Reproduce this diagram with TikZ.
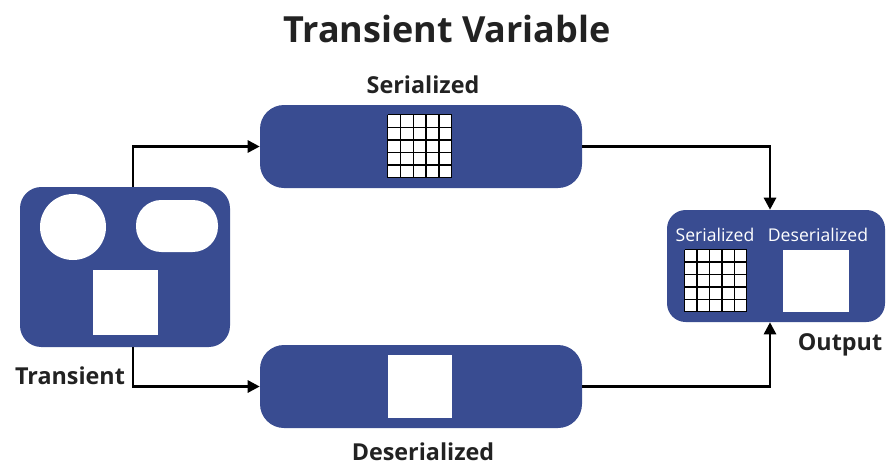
\documentclass[tikz,border=0pt]{standalone}
\usepackage{fontspec}
\setmainfont{Open Sans}
\usetikzlibrary{arrows.meta,calc}
\definecolor{boxblue}{RGB}{57,76,145}
\definecolor{txt}{RGB}{34,34,34}
\begin{document}
\begin{tikzpicture}[x=0.75pt,y=-0.75pt,
  blk/.style={fill=boxblue,draw=none,rounded corners=17pt,inner sep=0pt},
  wht/.style={fill=white,draw=none,inner sep=0pt},
  lbl/.style={text=txt,font=\bfseries\fontsize{17.5}{19}\selectfont,inner sep=0pt},
  wlbl/.style={text=white,font=\fontsize{13.2}{14}\selectfont,inner sep=0pt},
  conn/.style={draw=black,line width=2pt,-{Triangle[length=9pt,width=9pt]}},
  gridline/.style={draw=black,line width=1.1pt}
]
\useasboundingbox (0,0) rectangle (888,465);
% title
\node[text=txt,font=\bfseries\fontsize{27}{30}\selectfont,inner sep=0pt] (title) at (447,29) {Transient Variable};
% left box
\node[blk,minimum width=157.5pt,minimum height=120pt,rounded corners=16pt] (L) at (125,267) {};
\node[wht,circle,minimum size=49.5pt] (c1) at (73,227) {};
\node[wht,rounded corners=19pt,minimum width=61.5pt,minimum height=39pt] (p1) at (177,226) {};
\node[wht,minimum width=48.75pt,minimum height=48.75pt] (s1) at (125.5,302.5) {};
\node[lbl,anchor=center] (tl) at (70,376) {Transient};
% top box
\node[blk,minimum width=241.5pt,minimum height=62.25pt,rounded corners=18pt] (S) at (421,146.5) {};
\node[lbl] (sl) at (423,85) {Serialized};
\node[wht,minimum width=48pt,minimum height=47.25pt] (g1) at (420,146.5) {};
\foreach \i in {0,...,5}{
  \draw[gridline] ($(g1.north west)+(\i*12.8,0)$) -- ($(g1.south west)+(\i*12.8,0)$);
  \draw[gridline] ($(g1.north west)+(0,\i*12.6)$) -- ($(g1.north east)+(0,\i*12.6)$);
}
% bottom box
\node[blk,minimum width=241.5pt,minimum height=62.25pt,rounded corners=18pt] (D) at (421,386.5) {};
\node[wht,minimum width=48pt,minimum height=47.25pt] (s2) at (420,386.5) {};
\node[lbl] (dl) at (423,452) {Deserialized};
% right box
\node[blk,minimum width=163.5pt,minimum height=84pt,rounded corners=14pt] (O) at (776,266) {};
\node[wlbl] (ol1) at (715,235) {Serialized};
\node[wlbl] (ol2) at (818,235) {Deserialized};
\node[wht,minimum width=46.5pt,minimum height=46.5pt] (g2) at (716,281) {};
\foreach \i in {0,...,5}{
  \draw[gridline] ($(g2.north west)+(\i*12.4,0)$) -- ($(g2.south west)+(\i*12.4,0)$);
  \draw[gridline] ($(g2.north west)+(0,\i*12.4)$) -- ($(g2.north east)+(0,\i*12.4)$);
}
\node[wht,minimum width=49.5pt,minimum height=46.5pt] (s3) at (816,281) {};
\node[lbl] (olab) at (840,345) {Output};
% connectors
\draw[conn] ($(L.north)+(8,0)$) |- (S.west);
\draw[conn] ($(L.south)+(8,0)$) |- (D.west);
\draw[conn] (S.east) -| ($(O.north)+(-6,0)$);
\draw[conn] (D.east) -| ($(O.south)+(-6,0)$);
\end{tikzpicture}
\end{document}
